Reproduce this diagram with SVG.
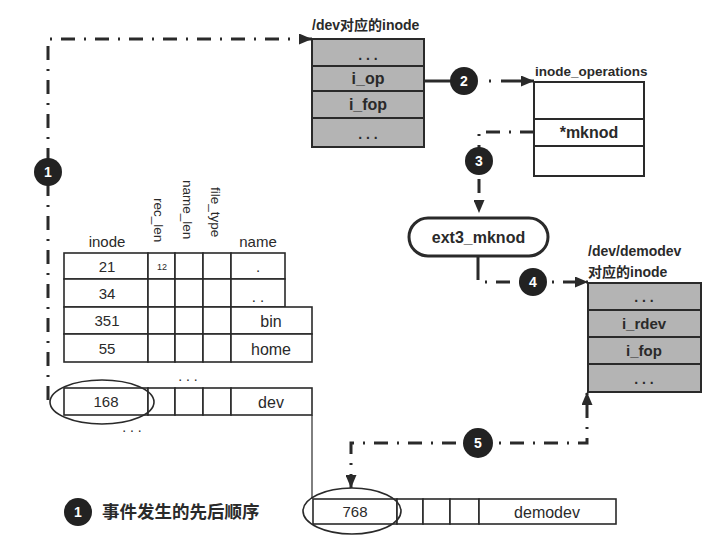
<svg xmlns="http://www.w3.org/2000/svg" width="720" height="546" viewBox="0 0 720 546">
<style>
.t{font-family:"Liberation Sans","Noto Sans CJK SC",sans-serif;fill:#2a2a2a}
.b{font-weight:bold}
.c{text-anchor:middle}
.cell{fill:#fff;stroke:#2a2a2a;stroke-width:1.6}
.gray{fill:#b4b4b4;stroke:#2a2a2a;stroke-width:2}
.ops{fill:#fff;stroke:#2a2a2a;stroke-width:2}
.dd{fill:none;stroke:#2a2a2a;stroke-width:3;stroke-dasharray:14 9 2 9}
.num{fill:#222}
.numt{font-family:"Liberation Sans",sans-serif;font-weight:bold;font-size:14px;fill:#fff;text-anchor:middle}
.ell{fill:none;stroke:#2a2a2a;stroke-width:1.6}
</style>
<defs>
<marker id="ah" markerUnits="userSpaceOnUse" markerWidth="13" markerHeight="11" refX="13" refY="5.5" orient="auto-start-reverse">
<path d="M0,0 L13,5.5 L0,11 z" fill="#2a2a2a"/>
</marker>
</defs>
<rect width="720" height="546" fill="#fff"/>

<g id="connectors">
<path class="dd" d="M48,400 V39 H312" marker-end="url(#ah)"/>
<path d="M424,81 H452" fill="none" stroke="#2a2a2a" stroke-width="3"/>
<path class="dd" d="M489,81 H534" style="stroke-dasharray:2 10 40" marker-end="url(#ah)"/>
<path class="dd" d="M534,132 H479 V213" style="stroke-dasharray:14 9 2 9" marker-end="url(#ah)"/>
<path class="dd" d="M478,256 V282 H588" style="stroke-dasharray:24 9 2 9 14 9" marker-end="url(#ah)"/>
<path class="dd" d="M351,488 V443 H587 V392" marker-start="url(#ah)" marker-end="url(#ah)"/>
<path d="M312,415 V499" fill="none" stroke="#2a2a2a" stroke-width="1.2"/>
</g>

<g id="step1"><circle class="num" cx="48" cy="172" r="14"/><text class="numt" x="48" y="177">1</text></g>
<g id="step2"><circle class="num" cx="464" cy="81" r="14"/><text class="numt" x="464" y="86">2</text></g>
<g id="step3"><circle class="num" cx="479" cy="161" r="14"/><text class="numt" x="479" y="166">3</text></g>
<g id="step4"><circle class="num" cx="533" cy="282" r="14"/><text class="numt" x="533" y="287">4</text></g>
<g id="step5"><circle class="num" cx="478" cy="443" r="15"/><text class="numt" x="478" y="448">5</text></g>

<g id="dev-inode">
<text class="t b" x="312" y="30" font-size="14">/dev对应的inode</text>
<rect class="gray" x="312" y="39" width="112" height="108"/>
<line x1="312" y1="66" x2="424" y2="66" stroke="#2a2a2a" stroke-width="2"/>
<line x1="312" y1="91" x2="424" y2="91" stroke="#2a2a2a" stroke-width="2"/>
<line x1="312" y1="118" x2="424" y2="118" stroke="#2a2a2a" stroke-width="2"/>
<text class="t b c" x="368" y="60" font-size="14">. . .</text>
<text class="t b c" x="368" y="84" font-size="16">i_op</text>
<text class="t b c" x="368" y="110" font-size="16">i_fop</text>
<text class="t b c" x="368" y="139" font-size="14">. . .</text>
</g>

<g id="inode-operations">
<text class="t b" x="535" y="76" font-size="13.5">inode_operations</text>
<rect class="ops" x="534" y="82" width="110" height="94"/>
<line x1="534" y1="119" x2="644" y2="119" stroke="#2a2a2a" stroke-width="2"/>
<line x1="534" y1="146" x2="644" y2="146" stroke="#2a2a2a" stroke-width="2"/>
<text class="t b c" x="589" y="138" font-size="16">*mknod</text>
</g>

<g id="ext3-mknod">
<rect x="409" y="218" width="139" height="38" rx="19" fill="#fff" stroke="#2a2a2a" stroke-width="3"/>
<text class="t b c" x="478.5" y="243" font-size="16">ext3_mknod</text>
</g>

<g id="demodev-inode">
<text class="t b" x="588" y="256" font-size="14">/dev/demodev</text>
<text class="t b" x="588" y="277" font-size="14">对应的inode</text>
<rect class="gray" x="588" y="283" width="113" height="109"/>
<line x1="588" y1="310" x2="701" y2="310" stroke="#2a2a2a" stroke-width="2"/>
<line x1="588" y1="337" x2="701" y2="337" stroke="#2a2a2a" stroke-width="2"/>
<line x1="588" y1="364" x2="701" y2="364" stroke="#2a2a2a" stroke-width="2"/>
<text class="t b c" x="644" y="302" font-size="14">. . .</text>
<text class="t b c" x="644" y="329" font-size="15">i_rdev</text>
<text class="t b c" x="644" y="356" font-size="15">i_fop</text>
<text class="t b c" x="644" y="384" font-size="14">. . .</text>
</g>

<g id="dir-table">
<text class="t c" x="107" y="247" font-size="15">inode</text>
<text class="t" transform="translate(154,198) rotate(90)" font-size="13.5">rec_len</text>
<text class="t" transform="translate(183,180) rotate(90)" font-size="13.5">name_len</text>
<text class="t" transform="translate(211,187) rotate(90)" font-size="13.5">file_type</text>
<text class="t c" x="258" y="247" font-size="15">name</text>
<rect class="cell" x="64" y="253" width="84" height="26"/>
<rect class="cell" x="148" y="253" width="27" height="26"/>
<rect class="cell" x="175" y="253" width="28" height="26"/>
<rect class="cell" x="203" y="253" width="28" height="26"/>
<rect class="cell" x="231" y="253" width="54" height="26"/>
<rect class="cell" x="64" y="279" width="84" height="28"/>
<rect class="cell" x="148" y="279" width="27" height="28"/>
<rect class="cell" x="175" y="279" width="28" height="28"/>
<rect class="cell" x="203" y="279" width="28" height="28"/>
<rect class="cell" x="231" y="279" width="54" height="28"/>
<rect class="cell" x="64" y="307" width="84" height="27"/>
<rect class="cell" x="148" y="307" width="27" height="27"/>
<rect class="cell" x="175" y="307" width="28" height="27"/>
<rect class="cell" x="203" y="307" width="28" height="27"/>
<rect class="cell" x="231" y="307" width="81" height="27"/>
<rect class="cell" x="64" y="334" width="84" height="28"/>
<rect class="cell" x="148" y="334" width="27" height="28"/>
<rect class="cell" x="175" y="334" width="28" height="28"/>
<rect class="cell" x="203" y="334" width="28" height="28"/>
<rect class="cell" x="231" y="334" width="81" height="28"/>
<text class="t c" x="107" y="272" font-size="15">21</text>
<text class="t c" x="162" y="270" font-size="9">12</text>
<text class="t c" x="258" y="272" font-size="15">.</text>
<text class="t c" x="107" y="299" font-size="15">34</text>
<text class="t c" x="258" y="302" font-size="15">. .</text>
<text class="t c" x="107" y="326" font-size="15">351</text>
<text class="t c" x="271" y="327" font-size="16">bin</text>
<text class="t c" x="107" y="354" font-size="15">55</text>
<text class="t c" x="271" y="355" font-size="16">home</text>
<text class="t c" x="188" y="381" font-size="14">. . .</text>
<rect class="cell" x="64" y="388" width="84" height="27"/>
<rect class="cell" x="148" y="388" width="27" height="27"/>
<rect class="cell" x="175" y="388" width="28" height="27"/>
<rect class="cell" x="203" y="388" width="28" height="27"/>
<rect class="cell" x="231" y="388" width="81" height="27"/>
<text class="t c" x="106" y="407" font-size="15">168</text>
<text class="t c" x="271" y="408" font-size="16">dev</text>
<ellipse class="ell" cx="102" cy="402" rx="52" ry="22"/>
<text class="t c" x="132" y="432" font-size="14">. . .</text>
</g>

<g id="demodev-entry">
<rect class="cell" x="313" y="499" width="84" height="25"/>
<rect class="cell" x="397" y="499" width="26" height="25"/>
<rect class="cell" x="423" y="499" width="27" height="25"/>
<rect class="cell" x="450" y="499" width="29" height="25"/>
<rect class="cell" x="479" y="499" width="137" height="25"/>
<text class="t c" x="355" y="517" font-size="15">768</text>
<text class="t c" x="547" y="518" font-size="16">demodev</text>
<ellipse class="ell" cx="352" cy="511" rx="49" ry="23"/>
</g>

<g id="legend">
<circle class="num" cx="78" cy="512" r="14"/><text class="numt" x="78" y="517">1</text>
<text class="t b" x="102" y="518" font-size="17.5">事件发生的先后顺序</text>
</g>
</svg>
